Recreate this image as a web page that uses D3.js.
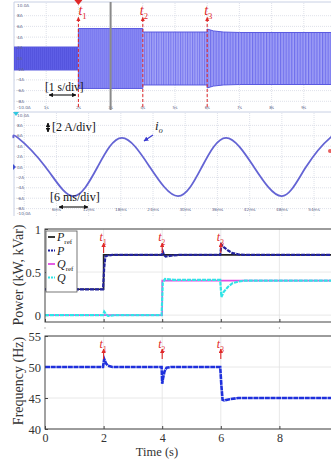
<!DOCTYPE html>
<html><head><meta charset="utf-8">
<script src="https://cdn.jsdelivr.net/npm/d3@7"></script>
<style>body{margin:0;background:#fff}svg{display:block}</style>
</head><body>
<svg id="c" width="331" height="460"></svg>
<script>
// ================= DATA =================
// Panel 1: scope, 1 s/div, output current envelope (A)
const scopeEnvTime = [0, 2, 2, 4, 4, 6, 6, 6.2, 6.5, 7, 10];
const scopeEnvAmp  = [2.15, 2.15, 5.6, 5.6, 4.95, 4.95, 5.5, 5.15, 4.95, 4.86, 4.86];
const scopeSegStart = [0, 2, 4, 6];
const scopeSegEnd   = [2, 4, 6, 10];
const scopeYTicks  = [10, 8, 6, 4, 2, 0, -2, -4, -6, -8, -10];
const scopeYLabels = ["10.0A","8A","6A","4A","2A","0A","-2A","-4A","-6A","-8A","-10.0A"];
const scope1XTicks = [1,2,3,4,5,6,7,8,9];
const scope1XLabels = ["1s","2s","3s","4s","5s","6s","7s","8s","9s"];
const cursorTime = 3;
const eventTimes = [2, 4, 6];
const eventNums  = ["1", "2", "3"];

// Panel 2: scope, 6 ms/div, i_o (ms, A) — peaks, zero crossings, troughs
const ioTime  = [-2, -1.16, 3.97, 9.1, 13.66, 18.2, 23.4, 28.65, 33.1, 37.6, 42.8, 48.0, 52.5, 57.0, 58];
const ioValue = [5.55, 5.6, 0, -5.6, 0, 5.6, 0, -5.6, 0, 5.6, 0, -5.6, 0, 5.6, 5.45];
const scope2XTicks = [0,6,12,18,24,30,36,42,48,54];
const scope2XLabels = ["0ms","6ms","12ms","18ms","24ms","30ms","36ms","42ms","48ms","54ms"];

// Panel 3: power (kW, kVar)
const powerTicks = [0, 0.5, 1];
const timeTicks  = [0, 2, 4, 6, 8];
const prefTime = [0, 2, 2, 10];
const prefVal  = [0.3, 0.3, 0.7, 0.7];
const pTime = [0, 1.98, 2.02, 2.06, 2.12, 2.3, 3.98, 4.02, 4.06, 4.12, 4.3, 4.6, 5.98, 6.02, 6.1, 6.25, 6.4, 6.6, 6.8, 10];
const pVal  = [0.3, 0.3, 0.55, 0.68, 0.69, 0.7, 0.7, 0.74, 0.7, 0.68, 0.69, 0.7, 0.7, 0.82, 0.79, 0.75, 0.72, 0.705, 0.7, 0.7];
const qrefTime = [0, 4, 4, 6, 6.01, 10];
const qrefVal  = [0, 0, 0.4, 0.4, 0.4, 0.4];
const qTime = [0, 1.98, 2.02, 2.08, 2.15, 2.4, 3.98, 4.02, 4.1, 4.4, 5.98, 6.02, 6.1, 6.25, 6.4, 6.6, 6.8, 10];
const qVal  = [0, 0, 0.04, 0.01, -0.01, 0, 0, 0.38, 0.42, 0.41, 0.41, 0.21, 0.27, 0.33, 0.37, 0.39, 0.4, 0.4];

// Panel 4: frequency (Hz)
const freqTicks = [40, 45, 50, 55];
const fTime = [0, 1.98, 2.02, 2.08, 2.15, 2.3, 3.98, 4.0, 4.03, 4.08, 4.15, 4.3, 5.98, 6.02, 6.06, 6.12, 6.3, 6.6, 10];
const fVal  = [50, 50, 51.3, 50.6, 50.2, 50, 50, 47.3, 48.2, 49.3, 49.9, 50, 50, 47, 44.7, 44.6, 44.8, 45, 45];

// ================= DRAW =================
const svg = d3.select('#c');
const serif = '"Liberation Serif","DejaVu Serif",serif';
const red = '#e02828';
const defs = svg.append('defs');

function zip(a, b){ return a.map((v,i)=>[v,b[i]]); }

function stripe(id, w, bg, fg, lw){
  const p = defs.append('pattern').attr('id', id).attr('patternUnits','userSpaceOnUse')
    .attr('width', w).attr('height', 20);
  p.append('rect').attr('width', w).attr('height', 20).attr('fill', bg);
  p.append('rect').attr('x',0).attr('width', lw).attr('height', 20).attr('fill', fg);
}
stripe('s0', 2, '#5e5ee6', '#5454de', 1);
stripe('s1', 2, '#8686f3', '#7c7cf0', 1);
stripe('s2', 2.4, '#a4a4f7', '#7474ee', 1);
stripe('s3', 2.8, '#a0a0f6', '#7070ed', 1.2);
const segFill = ['url(#s0)','url(#s1)','url(#s2)','url(#s3)'];

defs.append('marker').attr('id','arrR').attr('viewBox','0 0 10 10').attr('refX',9).attr('refY',5)
  .attr('markerWidth',4).attr('markerHeight',4).attr('orient','auto')
  .append('path').attr('d','M0,0L10,5L0,10z').attr('fill', red);
defs.append('marker').attr('id','arrK').attr('viewBox','0 0 10 10').attr('refX',9).attr('refY',5)
  .attr('markerWidth',4).attr('markerHeight',4).attr('orient','auto-start-reverse')
  .append('path').attr('d','M0,0L10,5L0,10z').attr('fill', '#111');
defs.append('marker').attr('id','arrB').attr('viewBox','0 0 10 10').attr('refX',9).attr('refY',5)
  .attr('markerWidth',4).attr('markerHeight',4).attr('orient','auto')
  .append('path').attr('d','M0,0L10,5L0,10z').attr('fill', '#3a3ad0');

function tLabel(g, x, y, n, size){
  const t = g.append('text').attr('x', x).attr('y', y).attr('fill', red)
    .style('font-family', serif).style('font-style','italic').style('font-size', size+'px');
  t.append('tspan').text('t');
  t.append('tspan').attr('dy', size*0.3).style('font-size', (size*0.62)+'px').style('font-style','normal').text(n);
  return t;
}

// ---------- Panel 1 ----------
const x1 = d3.scaleLinear().domain([0,10]).range([14, 336]);
const y1 = d3.scaleLinear().domain([-10,10]).range([112, 5]);
const p1 = svg.append('g');
p1.append('line').attr('x1',14).attr('x2',331).attr('y1',2).attr('y2',2).attr('stroke','#c8d0e4');
p1.append('line').attr('x1',14).attr('x2',14).attr('y1',2).attr('y2',110).attr('stroke','#c8d0e4');
p1.selectAll('.gv').data(scope1XTicks).join('line')
  .attr('x1', d=>x1(d)).attr('x2', d=>x1(d)).attr('y1',3).attr('y2',110)
  .attr('stroke','#d6d9e4').attr('stroke-width',0.8).attr('stroke-dasharray','1,1');
p1.selectAll('.gh').data(scopeYTicks.slice(1,10)).join('line')
  .attr('x1',14).attr('x2',331).attr('y1', d=>y1(d)).attr('y2', d=>y1(d))
  .attr('stroke','#d6d9e4').attr('stroke-width',0.8).attr('stroke-dasharray','1,1');
const envData = zip(scopeEnvTime, scopeEnvAmp);
const envArea = d3.area().x(d=>x1(d[0])).y0(d=>y1(-d[1])).y1(d=>y1(d[1]));
scopeSegStart.forEach((s,i)=>{
  defs.append('clipPath').attr('id','cs'+i).append('rect')
    .attr('x', x1(s)).attr('y',0).attr('width', x1(scopeSegEnd[i])-x1(s)).attr('height',120);
  p1.append('path').datum(envData).attr('d', envArea).attr('fill', segFill[i])
    .attr('clip-path','url(#cs'+i+')');
});
const envTop = d3.line().x(d=>x1(d[0])).y(d=>y1(d[1]));
const envBot = d3.line().x(d=>x1(d[0])).y(d=>y1(-d[1]));
p1.append('path').datum(envData).attr('d', envTop).attr('fill','none').attr('stroke','#5a5ae0').attr('stroke-width',1);
p1.append('path').datum(envData).attr('d', envBot).attr('fill','none').attr('stroke','#5a5ae0').attr('stroke-width',1);
p1.selectAll('.yl').data(scopeYTicks).join('text')
  .attr('x',17).attr('y', d=>Math.min(y1(d), 107)+1.5).text((d,i)=>scopeYLabels[i])
  .style('font-family','"DejaVu Sans",sans-serif').style('font-size','4.2px').attr('fill','#5c6488');
p1.selectAll('.xl').data(scope1XTicks).join('text')
  .attr('x', d=>x1(d)).attr('y',108.5).attr('text-anchor','middle').text((d,i)=>scope1XLabels[i])
  .style('font-family','"DejaVu Sans",sans-serif').style('font-size','4.2px').attr('fill','#5c6488');
p1.append('line').attr('x1', x1(cursorTime)).attr('x2', x1(cursorTime)).attr('y1',2).attr('y2',110)
  .attr('stroke','#8a8a8a').attr('stroke-width',2);
eventTimes.forEach((t,i)=>{
  const xx = x1(t);
  p1.append('line').attr('x1',xx).attr('x2',xx).attr('y1',19).attr('y2',109)
    .attr('stroke', red).attr('stroke-width',1).attr('stroke-dasharray','3,2');
  p1.append('path').attr('d', `M${xx-2},${21}L${xx+2},${21}L${xx},${16.5}Z`).attr('fill', red);
  tLabel(p1, xx - (i===0 ? 0 : 3), 15, eventNums[i], 14);
});
p1.append('path').attr('d', `M${x1(2)-4},0L${x1(2)+4},0L${x1(2)},5Z`).attr('fill', red);
p1.append('text').attr('x',45).attr('y',91).text('[1 s/div]')
  .style('font-family', serif).style('font-size','11.5px').attr('fill','#111');
p1.append('line').attr('x1',49).attr('x2',76).attr('y1',95).attr('y2',95)
  .attr('stroke','#111').attr('stroke-width',1.1)
  .attr('marker-start','url(#arrK)').attr('marker-end','url(#arrK)');

// ---------- Panel 2 ----------
const x2 = d3.scaleLinear().domain([-2, 58]).range([13.5, 335.5]);
const y2 = d3.scaleLinear().domain([-10,10]).range([219, 115]);
const p2 = svg.append('g');
p2.append('line').attr('x1',14).attr('x2',331).attr('y1',112).attr('y2',112).attr('stroke','#c8d0e4');
p2.append('line').attr('x1',14).attr('x2',14).attr('y1',112).attr('y2',216).attr('stroke','#c8d0e4');
p2.selectAll('.gv').data(scope2XTicks).join('line')
  .attr('x1', d=>x2(d)).attr('x2', d=>x2(d)).attr('y1',113).attr('y2',216)
  .attr('stroke','#d6d9e4').attr('stroke-width',0.8).attr('stroke-dasharray','1,1');
p2.selectAll('.gh').data(scopeYTicks.slice(1,10)).join('line')
  .attr('x1',14).attr('x2',331).attr('y1', d=>y2(d)).attr('y2', d=>y2(d))
  .attr('stroke','#d6d9e4').attr('stroke-width',0.8).attr('stroke-dasharray','1,1');
p2.selectAll('.yl').data(scopeYTicks).join('text')
  .attr('x',17).attr('y', d=>Math.min(y2(d), 213)+1.5).text((d,i)=>scopeYLabels[i])
  .style('font-family','"DejaVu Sans",sans-serif').style('font-size','4.2px').attr('fill','#5c6488');
p2.selectAll('.xl').data(scope2XTicks.slice(1)).join('text')
  .attr('x', d=>x2(d)).attr('y',211).attr('text-anchor','middle').text((d,i)=>scope2XLabels[i+1])
  .style('font-family','"DejaVu Sans",sans-serif').style('font-size','4.2px').attr('fill','#5c6488');
p2.append('path').attr('d','M13,112L19,112L16,116Z').attr('fill','#30c8e0');
p2.append('path').attr('d','M13,164L16,167L13,170Z').attr('fill','#4050d0');
const ioLine = d3.line().x(d=>x2(d[0])).y(d=>y2(d[1])).curve(d3.curveNatural);
p2.append('path').datum(zip(ioTime, ioValue)).attr('d', ioLine)
  .attr('fill','none').attr('stroke','#6464d4').attr('stroke-width',1.8);
p2.append('circle').attr('cx',330).attr('cy',151).attr('r',2).attr('fill','#e86060');
p2.append('text').attr('x',52).attr('y',131).text('[2 A/div]')
  .style('font-family', serif).style('font-size','12px').attr('fill','#111');
p2.append('line').attr('x1',48).attr('x2',48).attr('y1',123).attr('y2',132)
  .attr('stroke','#111').attr('stroke-width',1.2)
  .attr('marker-start','url(#arrK)').attr('marker-end','url(#arrK)');
p2.append('text').attr('x',50).attr('y',201).text('[6 ms/div]')
  .style('font-family', serif).style('font-size','12px').attr('fill','#111');
p2.append('line').attr('x1',59).attr('x2',88).attr('y1',207).attr('y2',207)
  .attr('stroke','#111').attr('stroke-width',1.1)
  .attr('marker-start','url(#arrK)').attr('marker-end','url(#arrK)');
const io = p2.append('text').attr('x',155).attr('y',130).attr('fill','#222')
  .style('font-family', serif).style('font-style','italic').style('font-size','13px');
io.append('tspan').text('i');
io.append('tspan').attr('dy',3).style('font-size','8px').text('o');
p2.append('line').attr('x1',153).attr('x2',144).attr('y1',135).attr('y2',141)
  .attr('stroke','#3a3ad0').attr('stroke-width',1.2).attr('marker-end','url(#arrB)');

// ---------- Panels 3 & 4 ----------
const xB = d3.scaleLinear().domain([0,10]).range([45, 338]);
const yP = d3.scaleLinear().domain([-0.08, 1]).range([322, 229]);
const yF = d3.scaleLinear().domain([40, 55]).range([429, 336]);

function framePanel(g, y, top, bot, ticks, fmt, showX){
  g.selectAll('.gx').data(timeTicks.slice(1)).join('line')
    .attr('x1', d=>xB(d)).attr('x2', d=>xB(d)).attr('y1', top).attr('y2', bot)
    .attr('stroke','#e2e2e2').attr('stroke-width',0.8);
  g.selectAll('.gy').data(ticks).join('line')
    .attr('x1',45).attr('x2',331).attr('y1', d=>y(d)).attr('y2', d=>y(d))
    .attr('stroke','#e2e2e2').attr('stroke-width',0.8);
  const ay = g.append('g').attr('transform','translate(45,0)')
    .call(d3.axisLeft(y).tickValues(ticks).tickFormat(fmt).tickSize(-3).tickPadding(4));
  ay.select('.domain').remove();
  ay.selectAll('text').style('font-family', serif).style('font-size','12.5px').attr('fill','#333');
  ay.selectAll('line').attr('stroke','#444');
  const ax = g.append('g').attr('transform',`translate(0,${bot})`)
    .call(d3.axisBottom(xB).tickValues(timeTicks).tickSize(-3).tickPadding(4));
  ax.select('.domain').remove();
  ax.selectAll('line').attr('stroke','#444');
  if (showX) ax.selectAll('text').style('font-family', serif).style('font-size','12px').attr('fill','#333');
  else ax.selectAll('text').remove();
}

const p3 = svg.append('g');
framePanel(p3, yP, 229, 322, powerTicks, d=>d===0.5?'0.5':String(d), false);
p3.selectAll('.tk').data(timeTicks).join('line')
  .attr('x1', d=>xB(d)).attr('x2', d=>xB(d)).attr('y1',327).attr('y2',329)
  .attr('stroke','#aaa').attr('stroke-width',0.8);
const lineP = d3.line().x(d=>xB(d[0])).y(d=>yP(d[1]));
p3.append('path').datum(zip(prefTime, prefVal)).attr('d', lineP).attr('fill','none').attr('stroke','#222').attr('stroke-width',1.6);
p3.append('path').datum(zip(qrefTime, qrefVal)).attr('d', lineP).attr('fill','none').attr('stroke','#e24ce2').attr('stroke-width',1.6);
p3.append('path').datum(zip(pTime, pVal)).attr('d', lineP).attr('fill','none').attr('stroke','#23239e').attr('stroke-width',2.2).attr('stroke-dasharray','4,1');
p3.append('path').datum(zip(qTime, qVal)).attr('d', lineP).attr('fill','none').attr('stroke','#30e4e6').attr('stroke-width',2.2).attr('stroke-dasharray','4,1');
p3.append('rect').attr('x',45).attr('y',229).attr('width',300).attr('height',93)
  .attr('fill','none').attr('stroke','#444').attr('stroke-width',1);
const lg = p3.append('g');
lg.append('rect').attr('x',46).attr('y',231).attr('width',31).attr('height',61)
  .attr('fill','#fff').attr('stroke','#555').attr('stroke-width',0.8);
const legNames = [['P','ref'],['P',''],['Q','ref'],['Q','']];
const legCol = ['#222','#23239e','#e24ce2','#30e4e6'];
const legDash = [null,'2,1',null,'2,1'];
legNames.forEach((n,i)=>{
  const yy = 237 + i*13.5;
  lg.append('line').attr('x1',48).attr('x2',55).attr('y1',yy).attr('y2',yy)
    .attr('stroke',legCol[i]).attr('stroke-width',1.8).attr('stroke-dasharray',legDash[i]);
  const t = lg.append('text').attr('x',57).attr('y',yy+4).attr('fill','#222')
    .style('font-family',serif).style('font-style','italic').style('font-size','12px');
  t.append('tspan').text(n[0]);
  if (n[1]) t.append('tspan').attr('dy',2.5).style('font-size','7px').style('font-style','normal').text(n[1]);
});
svg.append('text').attr('transform','translate(23,275) rotate(-90)').attr('text-anchor','middle')
  .text('Power (kW, kVar)').style('font-family',serif).style('font-size','14px').attr('fill','#333');

const p4 = svg.append('g');
framePanel(p4, yF, 336, 429, freqTicks, d=>String(d), true);
const lineF = d3.line().x(d=>xB(d[0])).y(d=>yF(d[1]));
p4.append('path').datum(zip(fTime, fVal)).attr('d', lineF).attr('fill','none').attr('stroke','#1f30dc').attr('stroke-width',2.6).attr('stroke-dasharray','5,0.7');
p4.append('rect').attr('x',45).attr('y',336).attr('width',300).attr('height',93)
  .attr('fill','none').attr('stroke','#444').attr('stroke-width',1);
svg.append('text').attr('transform','translate(23,381) rotate(-90)').attr('text-anchor','middle')
  .text('Frequency (Hz)').style('font-family',serif).style('font-size','14px').attr('fill','#333');
svg.append('text').attr('x',157).attr('y',456).attr('text-anchor','middle')
  .text('Time (s)').style('font-family',serif).style('font-size','12.5px').attr('fill','#333');

[[p3, 241, 243, 253],[p4, 348, 349, 359]].forEach(([g, ly, tip, tail])=>{
  eventTimes.forEach((t,i)=>{
    const xx = xB(t);
    g.append('line').attr('x1',xx).attr('x2',xx).attr('y1',tail).attr('y2',tip)
      .attr('stroke',red).attr('stroke-width',1.1).attr('marker-end','url(#arrR)');
    tLabel(g, xx-4, ly, eventNums[i], 12);
  });
});
</script>
</body></html>
